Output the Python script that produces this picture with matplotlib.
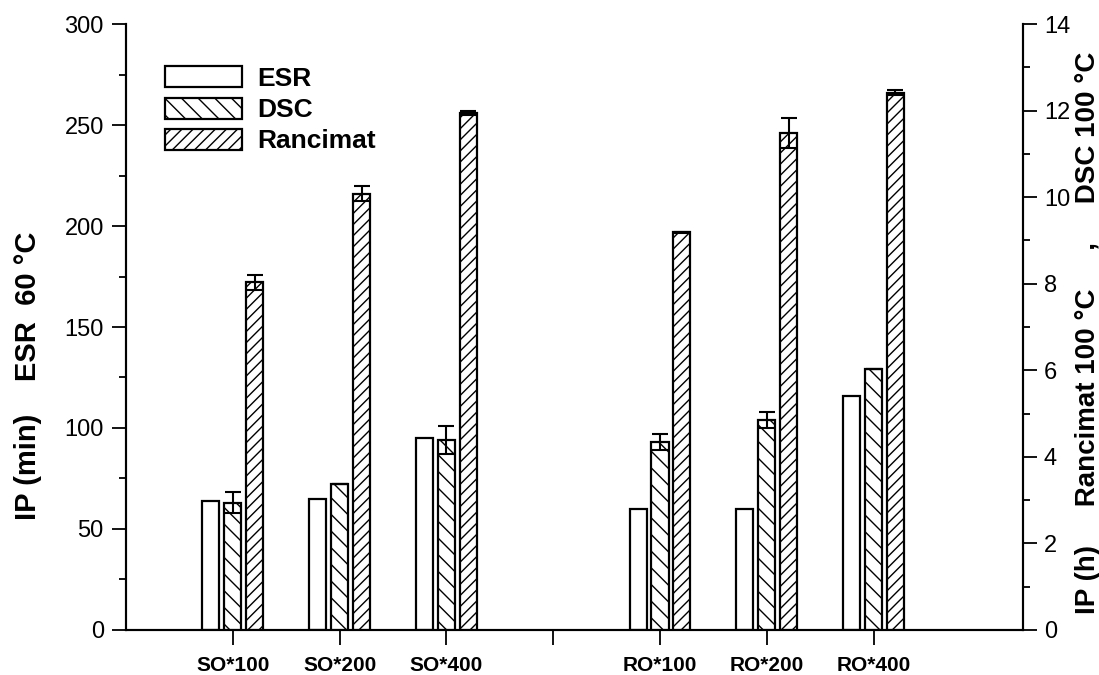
import matplotlib.pyplot as plt
from matplotlib.patches import Patch
import numpy as np

plt.rcParams['font.family'] = ['Liberation Sans', 'DejaVu Sans']
plt.rcParams['hatch.linewidth'] = 1.0

# samples (position 4 is an empty gap between the SO and RO groups)
positions = [1, 2, 3, 5, 6, 7]
tick_pos = [1, 2, 3, 4, 5, 6, 7]
tick_labels = ['SO*100', 'SO*200', 'SO*400', '', 'RO*100', 'RO*200', 'RO*400']

# ESR 60 C, induction period in minutes (left axis)
esr_min = [64, 65, 95, 60, 60, 116]

# DSC 100 C and Rancimat 100 C, induction period in hours (right axis)
dsc_h = [2.94, 3.38, 4.39, 4.34, 4.85, 6.02]
dsc_err = [0.24, 0.0, 0.33, 0.19, 0.19, 0.0]
rancimat_h = [8.03, 10.08, 11.95, 9.19, 11.48, 12.41]
rancimat_err = [0.18, 0.17, 0.05, 0.01, 0.35, 0.06]

fig = plt.figure(figsize=(10.99, 6.75), dpi=100)
ax = fig.add_axes([0.1147, 0.0667, 0.8162, 0.8977])
ax2 = ax.twinx()

w = 0.16
step = 0.205
x = np.array(positions, dtype=float)

ax.bar(x - step, esr_min, width=w, color='white', edgecolor='black', linewidth=1.6, zorder=2)
ax2.bar(x, dsc_h, width=w, color='white', edgecolor='black', linewidth=1.6, hatch='\\\\', zorder=2)
ax2.bar(x + step, rancimat_h, width=w, color='white', edgecolor='black', linewidth=1.6, hatch='///', zorder=2)
ax2.errorbar(x, dsc_h, yerr=dsc_err, fmt='none', ecolor='black', elinewidth=1.5, capsize=6, capthick=1.5, zorder=3)
ax2.errorbar(x + step, rancimat_h, yerr=rancimat_err, fmt='none', ecolor='black', elinewidth=1.5, capsize=6, capthick=1.5, zorder=3)

ax.set_xlim(0, 8.4)
ax.set_ylim(0, 300)
ax2.set_ylim(0, 14)

ax.set_xticks(tick_pos)
ax.set_xticklabels(tick_labels, fontsize=15, fontweight='bold')
ax.tick_params(axis='x', direction='out', length=11, width=1.3, pad=8)

ax.set_yticks(np.arange(0, 301, 50))
ax.set_yticks(np.arange(25, 300, 50), minor=True)
ax.tick_params(axis='y', which='major', direction='out', length=10, width=1.3, labelsize=17, pad=6)
ax.tick_params(axis='y', which='minor', direction='out', length=5, width=1.3)

ax2.set_yticks(np.arange(0, 15, 2))
ax2.set_yticks(np.arange(1, 14, 2), minor=True)
ax2.tick_params(axis='y', which='major', direction='out', length=10, width=1.3, labelsize=17, pad=5)
ax2.tick_params(axis='y', which='minor', direction='out', length=5, width=1.3)

for a in (ax, ax2):
    a.spines['top'].set_visible(False)
    for s in ('left', 'right', 'bottom'):
        a.spines[s].set_linewidth(1.5)

ax.set_ylabel('IP (min)    ESR  60 \u00b0C', fontsize=21, fontweight='bold')
ax.yaxis.set_label_coords(-0.094, 0.42)
ax2.set_ylabel('IP (h)     Rancimat 100 \u00b0C     ,     DSC 100 \u00b0C', fontsize=20, fontweight='bold')
ax2.yaxis.set_label_coords(1.058, 0.49)

handles = [
    Patch(facecolor='white', edgecolor='black', linewidth=1.6, label='ESR'),
    Patch(facecolor='white', edgecolor='black', linewidth=1.6, hatch='\\\\', label='DSC'),
    Patch(facecolor='white', edgecolor='black', linewidth=1.6, hatch='///', label='Rancimat'),
]
ax2.legend(handles=handles, loc='upper left', bbox_to_anchor=(0.029, 0.952), frameon=False,
           prop={'size': 19, 'weight': 'bold'}, handlelength=2.9, handleheight=0.85,
           labelspacing=0.25, handletextpad=0.6, borderpad=0)

fig.savefig('out.png', dpi=100)
